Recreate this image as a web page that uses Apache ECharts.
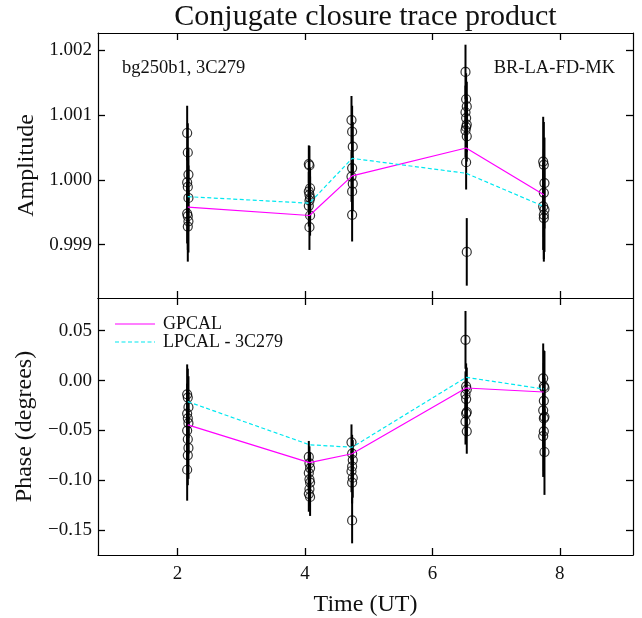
<!DOCTYPE html>
<html>
<head>
<meta charset="utf-8">
<script src="https://cdn.jsdelivr.net/npm/echarts@6/dist/echarts.min.js"></script>
<style>html,body{margin:0;padding:0;background:#fff;}#c{width:642px;height:618px;}</style>
</head>
<body>
<div id="c"></div>
<script>
// ---- data ----
var titleText = 'Conjugate closure trace product';
var leftNote = 'bg250b1, 3C279';
var rightNote = 'BR-LA-FD-MK';
var seriesNames = ['GPCAL', 'LPCAL - 3C279'];
var xTicks = [2, 4, 6, 8];
var ampTicks = [0.999, 1.000, 1.001, 1.002];
var phaseTicks = [-0.15, -0.10, -0.05, 0.00, 0.05];

var lineTimes = [2.16, 4.07, 4.74, 6.53, 7.75];
var gpcalAmp = [0.99958, 0.99945, 1.00006, 1.00049, 0.99977];
var lpcalAmp = [0.99974, 0.99964, 1.00033, 1.00010, 0.99959];
var gpcalPhase = [-0.0444, -0.0823, -0.0734, -0.0075, -0.0115];
var lpcalPhase = [-0.0212, -0.0644, -0.0669, 0.0032, -0.0085];

var ampX = [2.15, 2.16, 2.17, 2.15, 2.16, 2.17, 2.15, 2.16, 2.17, 2.16,
            4.06, 4.07, 4.08, 4.06, 4.07, 4.08, 4.07, 4.06, 4.08, 4.07,
            4.73, 4.74, 4.75, 4.74, 4.73, 4.75, 4.74, 4.74,
            6.52, 6.53, 6.54, 6.52, 6.53, 6.54, 6.53, 6.52, 6.54, 6.53, 6.54,
            7.74, 7.75, 7.76, 7.75, 7.74, 7.76, 7.75, 7.75];
var ampY = [1.00072, 1.00042, 1.00008, 0.99996, 0.99989, 0.99972, 0.99948, 0.99944, 0.99936, 0.99928,
            1.00024, 1.00022, 0.99987, 0.99982, 0.99977, 0.99972, 0.99968, 0.99960, 0.99945, 0.99927,
            1.00092, 1.00074, 1.00051, 1.00018, 1.00005, 0.99994, 0.99982, 0.99946,
            1.00166, 1.00124, 1.00113, 1.00104, 1.00095, 1.00085, 1.00081, 1.00076, 1.00067, 1.00027, 0.99889,
            1.00028, 1.00023, 0.99995, 0.99980, 0.99959, 0.99954, 0.99946, 0.99941];
var ampErr = [0.00042, 0.00045, 0.00040, 0.00048, 0.00044, 0.00050, 0.00046, 0.00052, 0.00048, 0.00054,
              0.00029, 0.00030, 0.00032, 0.00030, 0.00031, 0.00033, 0.00030, 0.00032, 0.00031, 0.00035,
              0.00037, 0.00040, 0.00038, 0.00041, 0.00039, 0.00042, 0.00040, 0.00041,
              0.00042, 0.00040, 0.00038, 0.00041, 0.00039, 0.00042, 0.00040, 0.00041, 0.00039, 0.00042, 0.00052,
              0.00069, 0.00066, 0.00070, 0.00068, 0.00067, 0.00065, 0.00068, 0.00067];

var phaseX = [2.15, 2.16, 2.17, 2.15, 2.16, 2.17, 2.15, 2.16, 2.17, 2.16, 2.15,
              4.06, 4.07, 4.08, 4.06, 4.07, 4.08, 4.07, 4.06, 4.08,
              4.73, 4.74, 4.75, 4.74, 4.73, 4.75, 4.74, 4.74,
              6.52, 6.53, 6.54, 6.52, 6.53, 6.54, 6.53, 6.52, 6.54,
              7.74, 7.75, 7.76, 7.75, 7.74, 7.76, 7.75, 7.75, 7.74, 7.76];
var phaseY = [-0.0138, -0.0171, -0.0267, -0.0331, -0.0379, -0.0428, -0.0502, -0.0589, -0.0676, -0.0750, -0.0895,
              -0.0766, -0.0830, -0.0878, -0.0927, -0.0991, -0.1023, -0.1088, -0.1136, -0.1168,
              -0.0620, -0.0734, -0.0798, -0.0862, -0.0910, -0.0975, -0.1023, -0.1403,
              0.0408, -0.0058, -0.0090, -0.0138, -0.0186, -0.0316, -0.0331, -0.0412, -0.0509,
              0.0022, -0.0058, -0.0074, -0.0203, -0.0299, -0.0364, -0.0379, -0.0509, -0.0557, -0.0717];
var phaseErr = [0.030, 0.029, 0.031, 0.030, 0.028, 0.031, 0.029, 0.030, 0.031, 0.030, 0.031,
                0.016, 0.017, 0.016, 0.018, 0.017, 0.018, 0.017, 0.018, 0.019,
                0.018, 0.019, 0.020, 0.019, 0.021, 0.020, 0.021, 0.023,
                0.029, 0.023, 0.022, 0.023, 0.022, 0.023, 0.022, 0.023, 0.0225,
                0.035, 0.036, 0.037, 0.038, 0.037, 0.039, 0.038, 0.040, 0.041, 0.043];

// ---- build ----
function zip3(a, b, c) { var r = []; for (var i = 0; i < a.length; i++) r.push([a[i], b[i], c[i]]); return r; }
function zip2(a, b) { var r = []; for (var i = 0; i < a.length; i++) r.push([a[i], b[i]]); return r; }

var FONT = '"Liberation Serif", "DejaVu Serif", serif';
var TXT = '#111';
var MAGENTA = '#ff00ff', CYAN = '#00e8f0';
var grids = [
  { left: 98, top: 33, width: 535, height: 265 },
  { left: 98, top: 298, width: 535, height: 267 }
];
var tickStyle = { show: true, inside: true, length: 7, lineStyle: { color: '#000', width: 1.3 } };
var axLine = { show: true, onZero: false, lineStyle: { color: '#000', width: 1.2 } };

function xAx(grid, pos, labels) {
  return {
    type: 'value', gridIndex: grid, position: pos, min: 0.75, max: 9.15,
    axisLine: axLine,
    axisTick: Object.assign({}, tickStyle, { customValues: xTicks }),
    axisLabel: { show: labels, customValues: xTicks, color: TXT, fontFamily: FONT, fontSize: 19, margin: 10 },
    splitLine: { show: false },
    name: labels ? 'Time (UT)' : '', nameLocation: 'middle', nameGap: 38,
    nameTextStyle: { fontFamily: FONT, fontSize: 24, color: TXT }
  };
}
function yAx(grid, pos, labels, mn, mx, ticks, dec, name, gap) {
  return {
    type: 'value', gridIndex: grid, position: pos, min: mn, max: mx,
    axisLine: axLine,
    axisTick: Object.assign({}, tickStyle, { customValues: ticks }),
    axisLabel: {
      show: labels, customValues: ticks, color: TXT, fontFamily: FONT, fontSize: 19, margin: 6,
      formatter: function (v) { return v.toFixed(dec).replace('-', '\u2212'); }
    },
    splitLine: { show: false },
    name: labels ? name : '', nameLocation: 'middle', nameGap: gap, nameRotate: 90,
    nameTextStyle: { fontFamily: FONT, fontSize: 24, color: TXT }
  };
}

function errSeries(xi, yi, data) {
  return {
    type: 'custom', xAxisIndex: xi, yAxisIndex: yi, data: data, silent: true, z: 3,
    encode: { x: 0, y: 1 },
    renderItem: function (params, api) {
      var x = api.value(0), y = api.value(1), e = api.value(2);
      var p1 = api.coord([x, y + e]);
      var p2 = api.coord([x, y - e]);
      return { type: 'line', shape: { x1: p1[0], y1: p1[1], x2: p2[0], y2: p2[1] },
               style: { stroke: '#000', lineWidth: 2 } };
    }
  };
}
function ptSeries(xi, yi, data) {
  return {
    type: 'scatter', xAxisIndex: xi, yAxisIndex: yi, data: data, symbol: 'circle', symbolSize: 9, z: 4,
    itemStyle: { color: 'rgba(0,0,0,0)', borderColor: '#000', borderWidth: 1.2 }, silent: true
  };
}
function lineSeries(name, xi, yi, data, color, dashed) {
  return {
    name: name, type: 'line', xAxisIndex: xi, yAxisIndex: yi, data: data, symbol: 'none', z: 5,
    lineStyle: { color: color, width: 1.2, type: dashed ? [4, 2.5] : 'solid' },
    itemStyle: { color: color }, silent: true
  };
}

var option = {
  animation: false,
  backgroundColor: '#fff',
  grid: grids,
  xAxis: [xAx(0, 'bottom', false), xAx(0, 'top', false), xAx(1, 'bottom', true), xAx(1, 'top', false)],
  yAxis: [
    yAx(0, 'left', true, 0.99818, 1.00226, ampTicks, 3, 'Amplitude', 53),
    yAx(0, 'right', false, 0.99818, 1.00226, ampTicks, 3, '', 0),
    yAx(1, 'left', true, -0.175, 0.0828, phaseTicks, 2, 'Phase (degrees)', 60),
    yAx(1, 'right', false, -0.175, 0.0828, phaseTicks, 2, '', 0)
  ],
  graphic: [
    { type: 'text', x: 365.5, y: 17, style: { text: titleText, font: '30px ' + FONT, fill: TXT, textAlign: 'center', textVerticalAlign: 'middle' } },
    { type: 'text', x: 122, y: 68, style: { text: leftNote, font: '18.5px ' + FONT, fill: TXT, textAlign: 'left', textVerticalAlign: 'middle' } },
    { type: 'text', x: 615, y: 68, style: { text: rightNote, font: '18.5px ' + FONT, fill: TXT, textAlign: 'right', textVerticalAlign: 'middle' } },
    { type: 'line', shape: { x1: 115, y1: 324, x2: 155, y2: 324 }, style: { stroke: MAGENTA, lineWidth: 1.2 } },
    { type: 'text', x: 163, y: 324, style: { text: seriesNames[0], font: '18px ' + FONT, fill: TXT, textAlign: 'left', textVerticalAlign: 'middle' } },
    { type: 'line', shape: { x1: 115, y1: 342, x2: 155, y2: 342 }, style: { stroke: CYAN, lineWidth: 1.2, lineDash: [4, 2.5] } },
    { type: 'text', x: 163, y: 342, style: { text: seriesNames[1], font: '18px ' + FONT, fill: TXT, textAlign: 'left', textVerticalAlign: 'middle' } }
  ],
  series: [
    errSeries(0, 0, zip3(ampX, ampY, ampErr)),
    ptSeries(0, 0, zip2(ampX, ampY)),
    lineSeries(seriesNames[0], 0, 0, zip2(lineTimes, gpcalAmp), MAGENTA, false),
    lineSeries(seriesNames[1], 0, 0, zip2(lineTimes, lpcalAmp), CYAN, true),
    errSeries(2, 2, zip3(phaseX, phaseY, phaseErr)),
    ptSeries(2, 2, zip2(phaseX, phaseY)),
    lineSeries(seriesNames[0], 2, 2, zip2(lineTimes, gpcalPhase), MAGENTA, false),
    lineSeries(seriesNames[1], 2, 2, zip2(lineTimes, lpcalPhase), CYAN, true)
  ]
};
echarts.init(document.getElementById('c'), null, { renderer: 'canvas' }).setOption(option);
</script>
</body>
</html>
